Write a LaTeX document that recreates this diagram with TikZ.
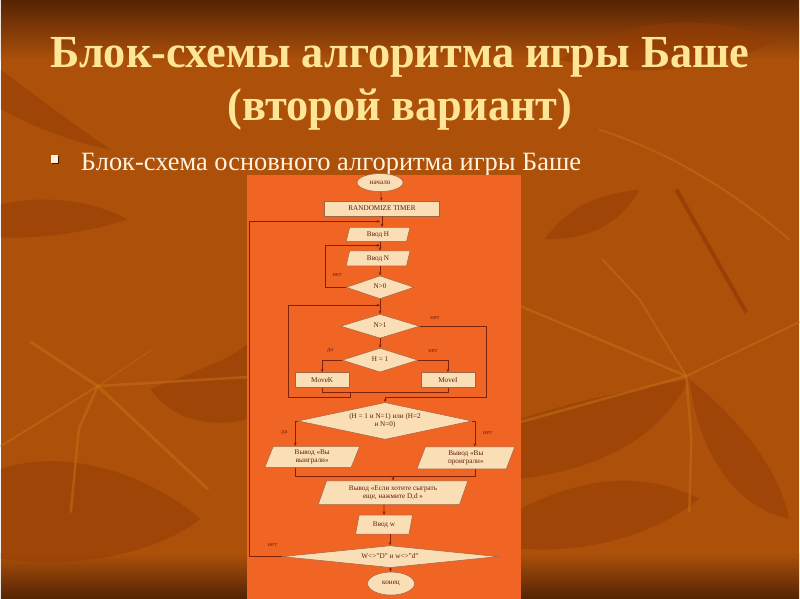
\documentclass[tikz,border=0pt]{standalone}
\usepackage{fontspec}
\setmainfont{Liberation Serif}
\usetikzlibrary{positioning,calc,shapes.geometric,arrows.meta}
\definecolor{bgdark}{RGB}{85,36,4}
\definecolor{bgbase}{RGB}{172,80,10}
\definecolor{bgleaf}{RGB}{150,60,6}
\definecolor{bgvein}{RGB}{196,112,22}
\definecolor{panelorange}{RGB}{240,100,36}
\definecolor{boxfill}{RGB}{250,222,182}
\definecolor{boxedge}{RGB}{160,100,70}
\definecolor{boxtext}{RGB}{90,30,10}
\definecolor{linered}{RGB}{125,35,12}
\definecolor{titlegold}{RGB}{255,230,150}
\definecolor{shadowbrown}{RGB}{55,22,0}
\definecolor{bullettext}{RGB}{255,242,222}
\newcommand{\flowtext}[1]{\smash{\makebox[0pt]{\raisebox{-0.5ex}{\begin{tabular}[c]{@{}c@{}}#1\end{tabular}}}}}

\begin{document}
\begin{tikzpicture}[x=1pt, y=-1pt,
    flow/.style={draw=linered, line width=0.6pt},
    arr/.style={flow, -{Stealth[length=3.4pt, width=2.8pt]}},
    box/.style={draw=boxedge, fill=boxfill, line width=0.5pt, inner sep=0pt,
      text=boxtext, font=\fontsize{7.2}{8.4}\selectfont, align=center},
    termbox/.style={box, ellipse},
    procbox/.style={box, rectangle},
    iobox/.style={box, trapezium, trapezium left angle=60, trapezium right angle=120,
      trapezium stretches body},
    condbox/.style={box, diamond},
    lbl/.style={text=linered, font=\fontsize{6.5}{7}\selectfont, inner sep=0pt},
    titletext/.style={font=\bfseries\fontsize{46}{50}\selectfont, anchor=base, inner sep=0pt,
      text=titlegold, xscale=0.965},
    leaf/.style={fill=bgleaf, opacity=0.55},
    vein/.style={draw=bgvein, line cap=round, opacity=0.55}]

    \fill[bgbase] (0,0) rectangle (800,600);
    \shade[top color=bgdark, bottom color=bgbase] (0,0) rectangle (800,60);
    \shade[top color=bgbase, bottom color=bgdark] (0,555) rectangle (800,600);

    \fill[leaf] (0,205) .. controls (40,195) and (90,200) .. (127,220)
        .. controls (90,232) and (40,240) .. (0,238) -- cycle;
    \fill[leaf] (150,390) .. controls (200,370) and (230,360) .. (247,345) -- (247,420)
        .. controls (210,430) and (170,420) .. (150,390) -- cycle;
    \fill[leaf] (0,470) .. controls (60,450) and (140,470) .. (200,520)
        .. controls (150,560) and (60,570) .. (0,560) -- cycle;
    \fill[leaf] (545,240) .. controls (570,205) and (600,195) .. (640,190)
        .. controls (620,225) and (590,240) .. (545,240) -- cycle;
    \fill[leaf] (521,420) .. controls (580,400) and (640,390) .. (690,380)
        .. controls (660,440) and (600,470) .. (521,480) -- cycle;
    \fill[leaf] (690,380) .. controls (740,420) and (780,470) .. (790,520)
        .. controls (740,510) and (700,460) .. (690,380) -- cycle;
    \fill[leaf] (521,510) .. controls (580,480) and (640,470) .. (700,500)
        .. controls (650,540) and (580,555) .. (521,550) -- cycle;
    \fill[leaf] (560,60) .. controls (620,20) and (700,10) .. (780,40)
        .. controls (720,70) and (640,80) .. (560,60) -- cycle;
    \fill[leaf] (0,70) .. controls (40,100) and (80,130) .. (110,150)
        .. controls (60,140) and (20,120) .. (0,110) -- cycle;

    \draw[vein, line width=3pt] (30,343) -- (97,387) -- (207,490);
    \draw[vein, line width=2.5pt] (97,387) -- (247,378);
    \draw[vein, line width=2.5pt] (97,387) -- (78,430) -- (70,513);
    \draw[vein, line width=2pt] (97,387) -- (0,447);
    \draw[vein, line width=1pt] (97,387) -- (152,350);
    \draw[vein, line width=2.5pt] (521,307) -- (687,377);
    \draw[vein, line width=2.5pt] (687,377) -- (521,423);
    \draw[vein, line width=2pt] (687,377) -- (800,323);
    \draw[vein, line width=2pt] (687,377) -- (640,300) -- (603,260);
    \draw[vein, line width=2.5pt] (687,377) -- (692,440) -- (690,513);
    \draw[draw=bgleaf, line width=4pt, opacity=0.8] (677,190) -- (747,313);
    \draw[vein, line width=2pt] (600,130) .. controls (660,150) and (720,180) .. (790,240);

    \node[titletext] (title1) at (400,68) {Блок-схемы алгоритма игры Баше};
    \node[titletext] (title2) at (400,121) {(второй вариант)};

    \fill[shadowbrown] (51,156) rectangle (58,164);
    \fill[bullettext] (50,155) rectangle (57,163);
    \node[anchor=base west, inner sep=0pt, text=bullettext, font=\fontsize{26.5}{28}\selectfont]
        (subtitle) at (80,171) {Блок-схема основного алгоритма игры Баше};

    \fill[panelorange] (247,175) rectangle (521,600);

    \node[termbox, minimum width=46, minimum height=18] (start) at (380,183) {начало};
    \node[procbox, minimum width=115, minimum height=15] (rnd) at (382,209) {RANDOMIZE TIMER};
    \node[iobox, minimum width=64, minimum height=14] (inh) at (378,235) {Ввод H};
    \node[iobox, minimum width=64, minimum height=15] (inn) at (378,259) {Ввод N};
    \node[condbox, minimum width=68, minimum height=23] (ngt0) at (380,288) {\flowtext{N>0}};
    \node[condbox, minimum width=79, minimum height=24] (ngt1) at (380,327) {\flowtext{N>1}};
    \node[condbox, minimum width=76, minimum height=24] (hone) at (380,361) {\flowtext{H = 1}};
    \node[procbox, minimum width=54, minimum height=15] (movek) at (322,381) {MoveK};
    \node[procbox, minimum width=54, minimum height=15] (movei) at (448,381) {MoveI};
    \node[condbox, minimum width=174, minimum height=37] (win) at (385,422)
        {\flowtext{(H = 1 и N=1) или (H=2\\и N=0)}};
    \node[iobox, minimum width=95, minimum height=21] (outwin) at (312,458) {Вывод «Вы\\выиграли»};
    \node[iobox, minimum width=98, minimum height=22] (outlose) at (466,459) {Вывод «Вы\\проиграли»};
    \node[iobox, minimum width=150, minimum height=24] (again) at (393,494)
        {Вывод «Если хотите сыграть\\еще, нажмите D,d »};
    \node[iobox, minimum width=57, minimum height=19] (inw) at (384,526) {Ввод w};
    \node[condbox, minimum width=216, minimum height=22] (wcheck) at (390,558)
        {\flowtext{W<>"D" и w<>"d"}};
    \node[termbox, minimum width=47, minimum height=23] (finish) at (391,585) {конец};

    \coordinate (backh) at (249,222);
    \coordinate (backn) at (325,246);
    \coordinate (backk) at (288,306);
    \coordinate (joinm) at (350,393);
    \coordinate (outn) at (487,398);
    \coordinate (joinw) at (295,477);
    \coordinate (joinl) at (475,477);

    \draw[arr] (start) -- (rnd);
    \draw[arr] (rnd) -- (inh.north -| rnd);
    \draw[arr] (inh.south -| start) -- (inn.north -| start);
    \draw[arr] (inn.south -| start) -- (ngt0);
    \draw[arr] (ngt0) -- (ngt1);
    \draw[arr] (ngt1) -- (hone);
    \draw[arr] (hone.west) -| (movek);
    \draw[arr] (hone.east) -| (movei);
    \draw[flow] (movek) |- (joinm);
    \draw[flow] (movei) |- (joinm);
    \draw[arr] (joinm) -- (joinm |- outn) -| (backk) -- (backk -| start);
    \draw[arr] (ngt0.west) -| (backn) -- (backn -| start);
    \draw[arr] (ngt1.east) -| (outn) -| (win);
    \draw[arr] (win.west) -| (outwin.north -| joinw);
    \draw[arr] (win.east) -| (outlose.north -| joinl);
    \draw[flow] (outwin.south -| joinw) -- (joinw) -- (joinl) -- (outlose.south -| joinl);
    \draw[arr] (again.north |- joinw) -- (again.north);
    \draw[arr] (again.south -| inw) -- (inw);
    \draw[arr] (inw.south -| wcheck) -- (wcheck);
    \draw[arr] (wcheck) -- (finish);
    \draw[arr] (wcheck.west) -| (backh) -- (backh -| start);

    \node[lbl] (nonzero) at (337,276) {нет};
    \node[lbl] (nomore) at (435,319) {нет};
    \node[lbl] (hyes) at (330,351) {да};
    \node[lbl] (hno) at (433,352) {нет};
    \node[lbl] (winyes) at (284,434) {да};
    \node[lbl] (winno) at (488,434) {нет};
    \node[lbl] (againno) at (272,546) {нет};
\end{tikzpicture}
\end{document}
